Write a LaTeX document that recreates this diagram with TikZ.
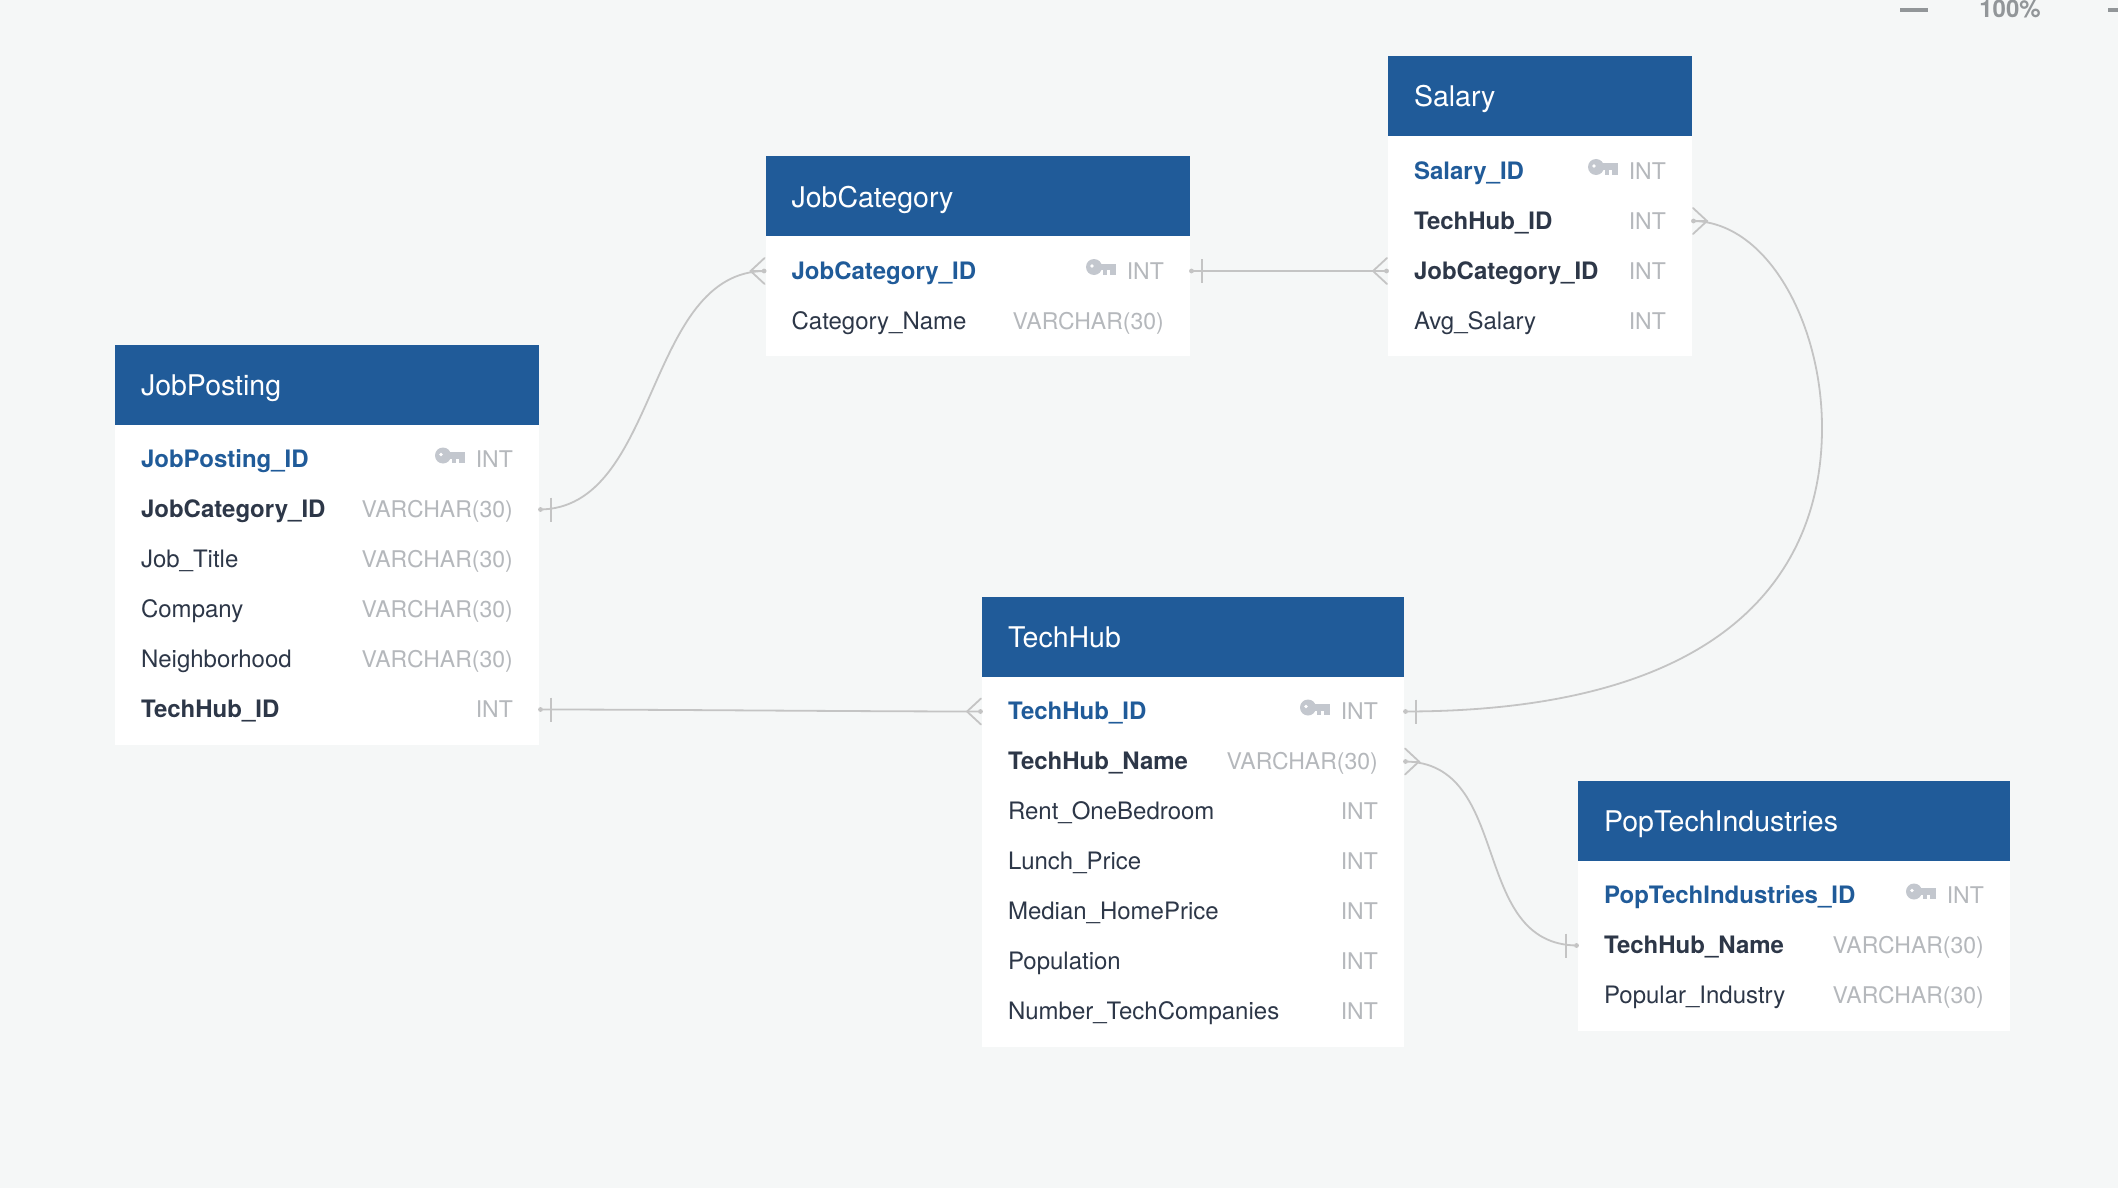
\documentclass[tikz,border=0pt]{standalone}
\usepackage{fontspec}
\setmainfont{TeX Gyre Heros}
\usetikzlibrary{calc}
\definecolor{canvas}{RGB}{245,247,247}
\definecolor{headblue}{RGB}{32,91,153}
\definecolor{darktext}{RGB}{45,55,72}
\definecolor{typegrey}{RGB}{181,184,188}
\definecolor{keygrey}{RGB}{195,199,206}
\definecolor{linegrey}{RGB}{196,196,196}
\definecolor{zoomgrey}{RGB}{146,150,153}

\tikzset{
	tablehead/.style={fill=headblue,text=white,anchor=north west,inner sep=0pt,outer sep=0pt,minimum height=80pt,font=\fontsize{28.5}{32}\selectfont},
	tablebody/.style={fill=white,anchor=north west,inner sep=0pt,outer sep=0pt},
	rowbox/.style={inner sep=0pt,outer sep=0pt,minimum height=50pt},
	plainfield/.style={text=darktext,inner sep=0pt,anchor=base west,font=\fontsize{24}{28}\selectfont},
	fkfield/.style={plainfield,font=\fontsize{24}{28}\selectfont\bfseries},
	pkfield/.style={fkfield,text=headblue},
	typefield/.style={text=typegrey,inner sep=0pt,anchor=base east,font=\fontsize{23}{28}\selectfont},
	erline/.style={draw=linegrey,line width=1.8pt},
	keyicon/.pic={
		\fill[keygrey] (-22,-4) circle (8);
		\fill[keygrey] (-22,-7.5) rectangle (0,-1);
		\fill[keygrey] (-13,-2) rectangle (-9,3.5);
		\fill[keygrey] (-6,-2) rectangle (0,3.5);
		\fill[white] (-24,-5) circle (1.8);
	},
	crowend/.pic={
		\draw[erline,line cap=round] (-1,-13) -- (-15,0) -- (-1,13);
		\draw[erline,line cap=round] (-15,0) -- (-1,0);
		\fill[linegrey] (-1.5,0) circle (2.4);
	},
	barend/.pic={
		\draw[erline] (-12,-12) -- (-12,12);
		\fill[linegrey] (-1.5,0) circle (2.4);
	}
}

% name, x, y, width, title, number of rows, rows
\newcommand{\drawtable}[7]{
	\pgfmathsetmacro{\bodyH}{50*#6+20}
	\node[tablehead,minimum width=#4pt] (#1head) at (#2,#3) {};
	\node[plainfield,text=white,font=\fontsize{28.5}{32}\selectfont,anchor=base west] (#1title) at ($(#1head.west)+(25.8,11)$) {#5};
	\node[tablebody,minimum width=#4pt,minimum height=\bodyH pt] (#1body) at (#1head.south west) {};
	\foreach \i/\fname/\ftype/\fstyle in {#7}{
		\node[rowbox,minimum width=#4pt] (#1\i) at ($(#1body.north)+(0,{50*\i-15})$) {};
		\node[\fstyle] (#1\i name) at ($(#1\i.west)+(25.8,8)$) {\fname};
		\node[typefield] (#1\i type) at ($(#1\i.east)+(-26,8)$) {\ftype};
	}
	\pic at ($(#11.east)+(-74,0)$) {keyicon};
}

\begin{document}
\begin{tikzpicture}[x=1pt,y=-1pt]

	% canvas
	\fill[canvas] (0,0) rectangle (2118,1188);
	\useasboundingbox (0,0) rectangle (2118,1188);

	% zoom controls
	\node[fill=zoomgrey,inner sep=0pt,minimum width=28pt,minimum height=4pt] (zoomout) at (1914,10) {};
	\node[text=zoomgrey,inner sep=0pt,anchor=base,font=\fontsize{24}{28}\selectfont\bfseries] (zoomlevel) at (2010,18) {100\%};
	\node[fill=zoomgrey,inner sep=0pt,minimum width=10pt,minimum height=4pt] (zoomin) at (2113,10) {};

	% tables
	\drawtable{jp}{115}{344.5}{424}{JobPosting}{6}{
		1/JobPosting\_ID/INT/pkfield,
		2/JobCategory\_ID/VARCHAR(30)/fkfield,
		3/Job\_Title/VARCHAR(30)/plainfield,
		4/Company/VARCHAR(30)/plainfield,
		5/Neighborhood/VARCHAR(30)/plainfield,
		6/TechHub\_ID/INT/fkfield}
	\drawtable{jc}{765.6}{156}{424.4}{JobCategory}{2}{
		1/JobCategory\_ID/INT/pkfield,
		2/Category\_Name/VARCHAR(30)/plainfield}
	\drawtable{sa}{1388}{56}{304}{Salary}{4}{
		1/Salary\_ID/INT/pkfield,
		2/TechHub\_ID/INT/fkfield,
		3/JobCategory\_ID/INT/fkfield,
		4/Avg\_Salary/INT/plainfield}
	\drawtable{th}{982}{596.5}{422}{TechHub}{7}{
		1/TechHub\_ID/INT/pkfield,
		2/TechHub\_Name/VARCHAR(30)/fkfield,
		3/Rent\_OneBedroom/INT/plainfield,
		4/Lunch\_Price/INT/plainfield,
		5/Median\_HomePrice/INT/plainfield,
		6/Population/INT/plainfield,
		7/Number\_TechCompanies/INT/plainfield}
	\drawtable{pt}{1578}{780.5}{432}{PopTechIndustries}{3}{
		1/PopTechIndustries\_ID/INT/pkfield,
		2/TechHub\_Name/VARCHAR(30)/fkfield,
		3/Popular\_Industry/VARCHAR(30)/plainfield}

	% connectors
	\coordinate (sabend) at (1822,428);
	\draw[erline] (jp2.east) .. controls +(121,0) and +(-121,0) .. (jc1.west);
	\draw[erline] (jc1.east) -- (sa3.west);
	\draw[erline] (sa2.east) .. controls +(75,0) and +(0,-105) .. (sabend) .. controls +(0,130) and +(340,0) .. (th1.east);
	\draw[erline] (jp6.east) .. controls +(120,0) and +(-120,0) .. (th1.west);
	\draw[erline] (th2.east) .. controls +(110,0) and +(-110,0) .. (pt2.west);

	% line ends
	\pic[xscale=-1] at (jp2.east) {barend};
	\pic at (jc1.west) {crowend};
	\pic[xscale=-1] at (jc1.east) {barend};
	\pic at (sa3.west) {crowend};
	\pic[xscale=-1] at (sa2.east) {crowend};
	\pic[xscale=-1] at (th1.east) {barend};
	\pic[xscale=-1] at (jp6.east) {barend};
	\pic at (th1.west) {crowend};
	\pic[xscale=-1] at (th2.east) {crowend};
	\pic at (pt2.west) {barend};

\end{tikzpicture}
\end{document}
